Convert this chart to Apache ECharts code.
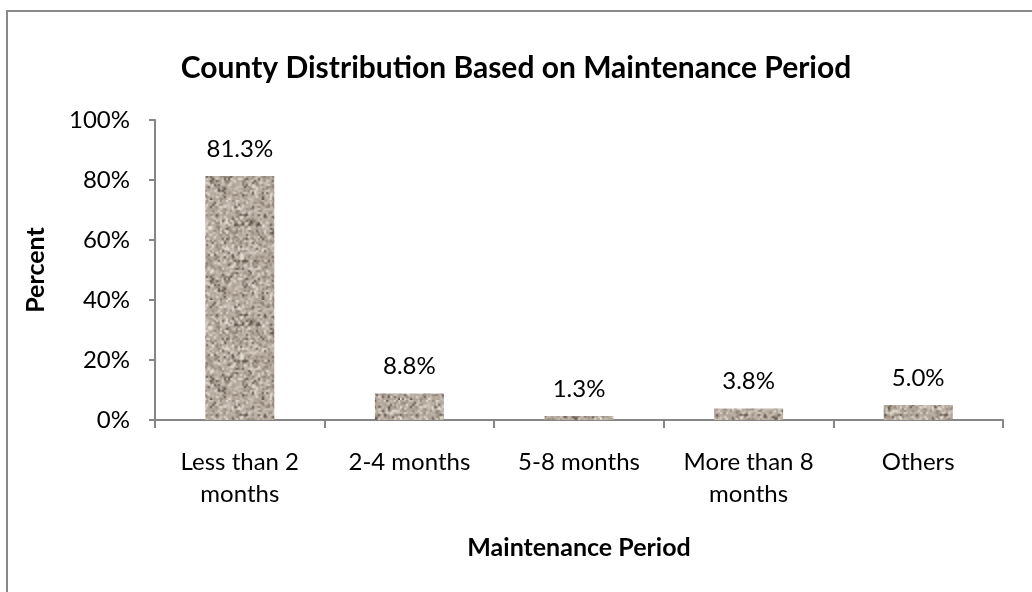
<!DOCTYPE html>
<html>
<head>
<meta charset="utf-8">
<script src="https://cdn.jsdelivr.net/npm/echarts@6/dist/echarts.min.js"></script>
<style>
html,body{margin:0;padding:0;background:#fff;}
#c{width:1032px;height:592px;}
</style>
</head>
<body>
<div id="c"></div>
<script>
var categories = ['Less than 2\nmonths', '2-4 months', '5-8 months', 'More than 8\nmonths', 'Others'];
var values = [81.3, 8.8, 1.3, 3.8, 5.0];
var yTicks = [0, 20, 40, 60, 80, 100];

// granite-like texture (decorative only)
function makeTexture() {
  var n = 50;
  var small = document.createElement('canvas');
  small.width = n; small.height = n;
  var sctx = small.getContext('2d');
  var img = sctx.createImageData(n, n);
  var s = 12345;
  function rnd() { s = (s * 1103515245 + 12345) & 0x7fffffff; return s / 0x7fffffff; }
  for (var i = 0; i < n * n; i++) {
    var r = rnd();
    var base;
    if (r < 0.06) base = [88, 76, 68];
    else if (r < 0.2) base = [142, 129, 118];
    else if (r < 0.66) base = [178, 166, 154];
    else if (r < 0.9) base = [202, 192, 181];
    else base = [232, 225, 214];
    var j = (rnd() - 0.5) * 14;
    img.data[i * 4] = base[0] + j;
    img.data[i * 4 + 1] = base[1] + j;
    img.data[i * 4 + 2] = base[2] + j;
    img.data[i * 4 + 3] = 255;
  }
  sctx.putImageData(img, 0, 0);
  var cv = document.createElement('canvas');
  cv.width = n * 2; cv.height = n * 2;
  var ctx = cv.getContext('2d');
  ctx.imageSmoothingEnabled = true;
  ctx.drawImage(small, 0, 0, n * 2, n * 2);
  return cv;
}
var tex = makeTexture();

var font = 'Lato, "Open Sans", sans-serif';
var chart = echarts.init(document.getElementById('c'), null, {renderer: 'canvas'});
chart.setOption({
  animation: false,
  title: {
    text: 'County Distribution Based on Maintenance Period',
    left: 'center', top: 48,
    textStyle: {fontFamily: font, fontWeight: 'bold', fontSize: 30, color: '#000'}
  },
  grid: {left: 155, right: 29, top: 120, bottom: 172},
  xAxis: {
    type: 'category',
    data: categories,
    name: 'Maintenance Period',
    nameLocation: 'middle',
    nameGap: 115,
    nameTextStyle: {fontFamily: font, fontWeight: 'bold', fontSize: 25, color: '#000'},
    axisLine: {lineStyle: {color: '#868686', width: 2}},
    axisTick: {show: true, length: 8, alignWithLabel: false, lineStyle: {color: '#868686', width: 2}},
    axisLabel: {fontFamily: font, fontSize: 24, color: '#000', margin: 26, lineHeight: 32, interval: 0}
  },
  yAxis: {
    type: 'value',
    min: 0, max: 100, interval: 20,
    name: 'Percent',
    nameLocation: 'middle',
    nameGap: 107,
    nameRotate: 90,
    nameTextStyle: {fontFamily: font, fontWeight: 'bold', fontSize: 25, color: '#000'},
    splitLine: {show: false},
    axisLine: {show: true, lineStyle: {color: '#868686', width: 2}},
    axisTick: {show: true, length: 6, lineStyle: {color: '#868686', width: 2}},
    axisLabel: {fontFamily: font, fontSize: 24, color: '#000', margin: 25,
      formatter: function (v) { return yTicks.indexOf(v) >= 0 ? v + '%' : ''; }}
  },
  series: [{
    type: 'bar',
    data: values,
    barWidth: 69,
    itemStyle: {color: {image: tex, repeat: 'repeat'}},
    label: {show: true, position: 'top', distance: 15, fontFamily: font, fontSize: 24, color: '#000',
      formatter: function (p) { return p.value.toFixed(1) + '%'; }}
  }],
  graphic: [
    {type: 'line', shape: {x1: 6, y1: 11, x2: 1032, y2: 11}, style: {stroke: '#898989', lineWidth: 2}},
    {type: 'line', shape: {x1: 7, y1: 10, x2: 7, y2: 592}, style: {stroke: '#898989', lineWidth: 2}}
  ]
});
</script>
</body>
</html>
